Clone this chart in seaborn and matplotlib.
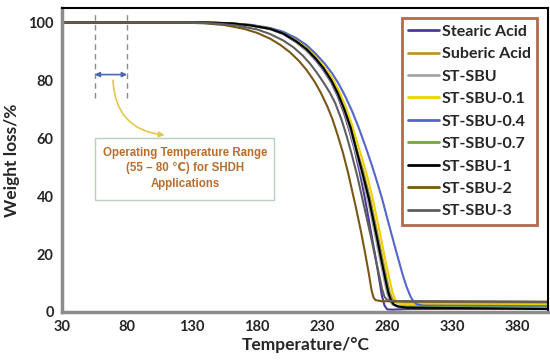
import numpy as np
import pandas as pd
import matplotlib
matplotlib.use("Agg")
import matplotlib.pyplot as plt
import seaborn as sns
from matplotlib.patches import Rectangle, FancyArrowPatch

# DATA
SERIES = ["Stearic Acid", "Suberic Acid", "ST-SBU", "ST-SBU-0.1", "ST-SBU-0.4",
          "ST-SBU-0.7", "ST-SBU-1", "ST-SBU-2", "ST-SBU-3"]

stearic_t = [30, 140, 160, 175, 190, 200, 210, 218, 225, 231, 237, 242, 247, 251, 255,
             259, 263, 267, 271, 274, 276, 278, 280, 284, 295, 404]
stearic_w = [100, 100, 99.7, 99, 97.7, 96, 93.2, 90.3, 87, 83.5, 79.3, 74.5, 68.5, 62.5, 56,
             48, 39, 29, 19, 11, 5.5, 2.2, 0.9, 0.8, 1.0, 1.2]

suberic_t = [30, 140, 160, 175, 190, 200, 210, 218, 225, 231, 237, 242, 247, 252, 256,
             262, 267, 273, 277, 280, 282, 284, 286, 290, 404]
suberic_w = [100, 100, 99.7, 99.1, 97.9, 96.3, 93.7, 91, 87.8, 84.5, 80.4, 76, 70.6, 64, 57,
             48, 39, 26, 17.2, 10.8, 6.8, 4.5, 3.4, 3.1, 3.0]

stsbu_t = [30, 140, 160, 175, 190, 200, 210, 218, 225, 231, 237, 242, 247, 251, 255,
           260, 265, 271, 275, 278, 280, 282, 284, 288, 404]
stsbu_w = [100, 100, 99.7, 99, 97.8, 96.1, 93.3, 90.5, 87.2, 83.8, 79.6, 75, 69.4, 63.3, 56.6,
           48, 39, 26, 17, 10.5, 6.5, 3.8, 2.6, 2.2, 2.0]

st01_t = [30, 140, 160, 175, 190, 200, 210, 218, 225, 231, 238, 243, 248, 253, 258,
          264, 269, 275, 279, 282, 284, 286, 288, 292, 404]
st01_w = [100, 100, 99.7, 99.1, 98, 96.5, 94, 91.4, 88.3, 85, 80.6, 76.3, 71, 64.6, 57,
          48, 39, 26, 17, 11, 7, 4.5, 3.2, 2.7, 2.5]

st04_t = [30, 140, 160, 175, 190, 200, 210, 218, 225, 232, 238, 243, 248, 253, 258,
          263, 268, 272, 276, 280, 284, 288, 292, 295, 298, 300, 303, 308, 404]
st04_w = [100, 100, 99.7, 99.2, 98.1, 96.8, 94.6, 92.2, 89.2, 85.8, 82.2, 78.6, 74.3, 69.4, 63.8,
          57.6, 51, 45.3, 39.3, 32.5, 25.8, 19.2, 12.8, 8.6, 5.3, 3.8, 2.6, 2.2, 2.0]

st07_t = [30, 140, 160, 175, 190, 200, 210, 218, 225, 231, 237, 242, 247, 252, 256,
          261, 266.5, 272.5, 276.5, 279.5, 281.5, 283.5, 285.5, 290, 404]
st07_w = [100, 100, 99.7, 99, 97.8, 96.2, 93.5, 90.8, 87.6, 84.3, 80.2, 75.8, 70.3, 63.8, 57,
          48.5, 39, 26, 17, 10.5, 6.5, 3.8, 2.3, 1.7, 1.5]

st1_t = [30, 140, 160, 175, 190, 200, 210, 218, 225, 231, 237, 242, 247, 252, 256,
         261, 266, 272, 276, 279, 281, 283, 285, 288, 295, 404]
st1_w = [100, 100, 99.7, 99, 97.8, 96.2, 93.5, 90.8, 87.5, 84.2, 80, 75.5, 70, 63.5, 56.5,
         48, 39, 26, 17, 10.5, 6.5, 4, 2.6, 1.9, 1.5, 1.0]

st2_t = [30, 120, 140, 155, 170, 180, 190, 198, 205, 212, 218, 224, 229, 234, 238,
         242, 246, 250, 253, 256, 260, 263, 266, 268, 269.5, 271, 276, 404]
st2_w = [100, 100, 99.7, 99.1, 97.8, 96.4, 94.4, 92.2, 89.8, 86.8, 83.6, 79.7, 75.7, 71, 66.5,
         61, 55, 48, 42, 36, 27.5, 20.5, 13, 7.5, 5, 4.1, 3.7, 3.5]

st3_t = [30, 130, 150, 165, 180, 190, 200, 208, 215, 221, 226, 231, 236, 240, 245,
         249, 253, 257, 261, 265, 268, 271, 274, 276, 278, 280, 285, 404]
st3_w = [100, 100, 99.6, 98.9, 97.6, 96, 93.8, 91.4, 88.6, 85.6, 82.6, 79.3, 75.7, 72.2, 66.3,
         60.5, 54, 47, 39, 31, 25, 18.5, 12.5, 8, 5.2, 4.1, 3.7, 3.5]

COLORS = ["#4B3A9A", "#C0922E", "#A6A6A6", "#F0D000", "#5566C8",
          "#6FA63E", "#000000", "#7A5716", "#5E5E5E"]

x_ticks = [30, 80, 130, 180, 230, 280, 330, 380]
y_ticks = [0, 20, 40, 60, 80, 100]

# STYLE
sns.set_theme(style="white")
plt.rcParams["font.family"] = ["Lato", "DejaVu Sans"]

temps = [stearic_t, suberic_t, stsbu_t, st01_t, st04_t, st07_t, st1_t, st2_t, st3_t]
weights = [stearic_w, suberic_w, stsbu_w, st01_w, st04_w, st07_w, st1_w, st2_w, st3_w]

frames = []
for name, t, w in zip(SERIES, temps, weights):
    frames.append(pd.DataFrame({"Temperature": t, "Weight": w, "Sample": name}))
df = pd.concat(frames, ignore_index=True)

fig = plt.figure(figsize=(5.5, 3.64), dpi=100)
ax = fig.add_axes([0.113, 0.143, 0.884, 0.835])

sns.lineplot(data=df, x="Temperature", y="Weight", hue="Sample",
             hue_order=SERIES, palette=dict(zip(SERIES, COLORS)),
             sort=False, estimator=None, linewidth=1.5, ax=ax)

ax.set_xlim(30, 404)
ax.set_ylim(0, 105)
ax.set_xticks(x_ticks)
ax.set_yticks(y_ticks)
ax.tick_params(length=0, labelsize=10.5, pad=6)
for lab in ax.get_xticklabels() + ax.get_yticklabels():
    lab.set_fontweight("bold")
ax.set_xlabel("Temperature/°C", fontsize=12.5, fontweight="bold", labelpad=2)
ax.set_ylabel("Weight loss/%", fontsize=12.5, fontweight="bold", labelpad=6)

for side in ["left", "bottom"]:
    ax.spines[side].set_color("#8C8C8C")
    ax.spines[side].set_linewidth(2.5)
for side in ["top", "right"]:
    ax.spines[side].set_color("black")
    ax.spines[side].set_linewidth(1.5)

# operating range annotation
for xv in [55, 80]:
    ax.plot([xv, xv], [74, 103.5], color="#8C8C8C", linestyle=(0, (4, 3)), linewidth=1)
ax.annotate("", xy=(80, 82), xytext=(55, 82),
            arrowprops=dict(arrowstyle="<|-|>", color="#4A68B8", lw=1.2,
                            mutation_scale=7, shrinkA=0, shrinkB=0))
ax.add_patch(FancyArrowPatch((69, 81), (111, 61), connectionstyle="arc3,rad=0.45",
                             arrowstyle="-|>", mutation_scale=8,
                             color="#E3C84A", lw=1.2))
ax.add_patch(Rectangle((55.5, 38.8), 137.5, 21.4, facecolor="white",
                       edgecolor="#B9CFC0", linewidth=1, zorder=3))
ax.text(124.5, 49.6, "Operating Temperature Range\n(55 – 80 ℃) for SHDH\nApplications",
        ha="center", va="center", fontsize=8.3, fontweight="bold",
        color="#B86E2C", family=["Liberation Sans", "DejaVu Sans"],
        linespacing=1.35, zorder=4)

# legend
leg = ax.legend(loc="upper right", bbox_to_anchor=(0.977, 0.967), frameon=True,
                fancybox=False, fontsize=11.5, handlelength=1.9, handletextpad=0.2,
                labelspacing=0.52, borderpad=0.4, borderaxespad=0)
leg.get_frame().set_edgecolor("#A0451F")
leg.get_frame().set_linewidth(2)
for txt in leg.get_texts():
    txt.set_fontweight("bold")
for line in leg.get_lines():
    line.set_linewidth(2)

fig.savefig("out.png", dpi=100)
